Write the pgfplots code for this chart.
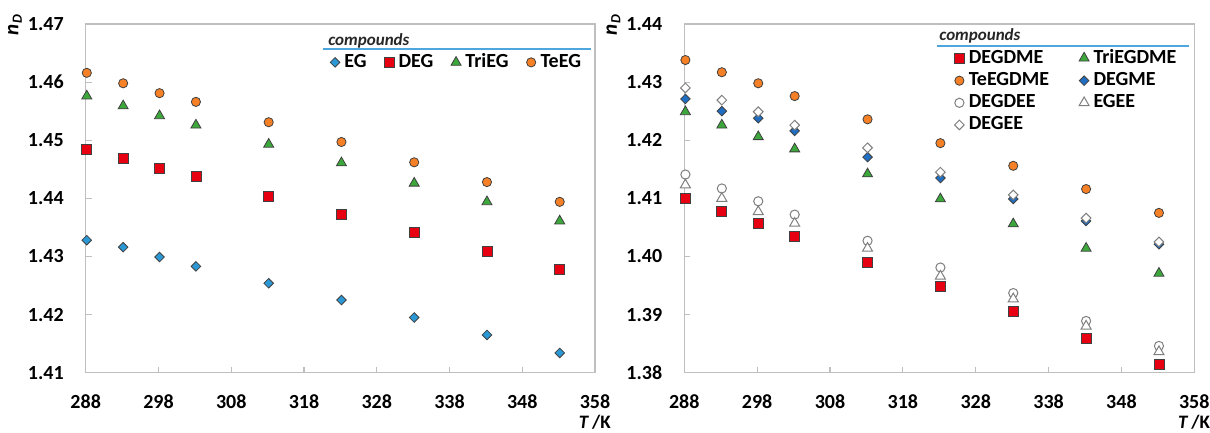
\documentclass[border=0pt]{standalone}
\usepackage{fontspec}
\setmainfont{Carlito}
\usepackage{pgfplots}
\pgfplotsset{compat=1.18}
\definecolor{cblueL}{HTML}{2B98D6}
\definecolor{cblueD}{HTML}{1F6EC2}
\definecolor{cred}{HTML}{E60012}
\definecolor{cgreen}{HTML}{3CA83C}
\definecolor{corange}{HTML}{F58025}
\definecolor{cedge}{HTML}{404040}
\definecolor{copen}{HTML}{7F7F7F}
\definecolor{cline}{HTML}{4FA6DE}
\definecolor{ctitle}{HTML}{262626}
\pgfplotsset{
 base/.style={
  scale only axis,
  xmin=288, xmax=358, xtick={288,298,...,358},
  axis line style={gray!50, line width=0.65pt},
  tick style={gray!50, line width=0.6pt},
  major tick length=3pt,
  tick align=inside,
  xtick pos=left, ytick pos=left,
  ticklabel style={font=\fontsize{10}{12}\selectfont\bfseries},
  /pgf/number format/assume math mode=true,
  xticklabel style={/pgf/number format/1000 sep={}},
  yticklabel style={/pgf/number format/fixed,/pgf/number format/fixed zerofill,/pgf/number format/precision=2},
  xticklabel shift=7.5pt, yticklabel shift=7.5pt,
  legend cell align=left,
  legend style={draw=none, fill=none, inner sep=0pt, outer sep=0pt,
    font=\fontsize{10}{12}\selectfont\bfseries, nodes={inner sep=1pt}},
  xlabel={\textbf{\textit{T}\,/K}},
  xlabel style={at={(axis description cs:0.9543,-0.143)}, anchor=west, font=\fontsize{9.5}{11}\selectfont},
  ylabel={\textbf{\textit{n}}\raisebox{-0.35ex}{\fontsize{7}{8}\selectfont\bfseries\itshape D}},
  ylabel style={at={(axis description cs:-0.1388,0.997)}, anchor=center, font=\fontsize{10.5}{12}\selectfont},
 },
 mk/.style={only marks, legend image code/.code={\draw[##1] plot coordinates {(2.5pt,0pt)}; \path[draw=none,fill=none] (0pt,-0.1pt) rectangle (6.2pt,0.1pt);}},
 mdiam/.style={mk, mark=square*, mark size=1.7pt, mark options={rotate=45, draw=cedge, fill=#1, line width=0.4pt}},
 msq/.style={mk, mark=square*, mark size=2.5pt, mark options={draw=cedge, fill=#1, line width=0.4pt}},
 mtri/.style={mk, mark=triangle*, mark size=2.9pt, mark options={draw=cedge, fill=#1, line width=0.4pt}},
 mcirc/.style={mk, mark=*, mark size=2.3pt, mark options={draw=cedge, fill=#1, line width=0.4pt}},
}
\begin{document}
\begin{tikzpicture}
\useasboundingbox (0,0) rectangle (605pt,216.5pt);
% ---------------- left ----------------
\begin{axis}[base, at={(42.85pt,30.15pt)}, anchor=south west,
  width=254.65pt, height=174.35pt,
  ymin=1.41, ymax=1.47, ytick={1.41,1.42,1.43,1.44,1.45,1.46,1.47},
  legend columns=4,
  legend style={at={(axis description cs:0.4797,0.890)}, anchor=west,
    /tikz/every even column/.append style={column sep=7.8pt}}]
\addplot[mdiam=cblueL] coordinates {(288.15,1.4328)(293.15,1.4316)(298.15,1.4299)(303.15,1.4283)(313.15,1.4254)(323.15,1.4225)(333.15,1.4195)(343.15,1.4165)(353.15,1.4134)};
\addlegendentry{EG}
\addplot[msq=cred] coordinates {(288.15,1.4485)(293.15,1.4469)(298.15,1.4452)(303.15,1.4437)(313.15,1.4404)(323.15,1.4373)(333.15,1.4342)(343.15,1.4308)(353.15,1.4277)};
\addlegendentry{DEG}
\addplot[mtri=cgreen] coordinates {(288.15,1.4576)(293.15,1.4559)(298.15,1.4542)(303.15,1.4526)(313.15,1.4493)(323.15,1.4461)(333.15,1.4426)(343.15,1.4394)(353.15,1.4361)};
\addlegendentry{TriEG}
\addplot[mcirc=corange] coordinates {(288.15,1.4616)(293.15,1.4598)(298.15,1.4581)(303.15,1.4566)(313.15,1.4531)(323.15,1.4497)(333.15,1.4462)(343.15,1.4428)(353.15,1.4394)};
\addlegendentry{TeEG}
\node[anchor=west, text=ctitle, font=\fontsize{8.5}{10}\selectfont\bfseries\itshape, inner sep=0pt] at (axis description cs:0.4757,0.9512) {compounds};
\draw[draw=cline, line width=0.8pt] (axis description cs:0.4653,0.9275) -- (axis description cs:0.9915,0.9275);
\end{axis}
% ---------------- right ----------------
\begin{axis}[base, at={(342.15pt,30.15pt)}, anchor=south west,
  width=255pt, height=174.35pt,
  ymin=1.38, ymax=1.44, ytick={1.38,1.39,1.40,1.41,1.42,1.43,1.44},
  legend columns=2,
  legend style={at={(axis description cs:0.5296,0.807)}, anchor=west, row sep=1pt,
    /tikz/every even column/.append style={column sep=14pt}}]
\addplot[msq=cred] coordinates {(288.15,1.4100)(293.15,1.4078)(298.15,1.4057)(303.15,1.4034)(313.15,1.3990)(323.15,1.3948)(333.15,1.3906)(343.15,1.3859)(353.15,1.3815)};
\addlegendentry{DEGDME}
\addplot[mtri=cgreen] coordinates {(288.15,1.4249)(293.15,1.4226)(298.15,1.4206)(303.15,1.4185)(313.15,1.4142)(323.15,1.4099)(333.15,1.4056)(343.15,1.4014)(353.15,1.3971)};
\addlegendentry{TriEGDME}
\addplot[mcirc=corange] coordinates {(288.15,1.4338)(293.15,1.4317)(298.15,1.4298)(303.15,1.4276)(313.15,1.4236)(323.15,1.4195)(333.15,1.4156)(343.15,1.4116)(353.15,1.4075)};
\addlegendentry{TeEGDME}
\addplot[mdiam=cblueD] coordinates {(288.15,1.4271)(293.15,1.4250)(298.15,1.4238)(303.15,1.4216)(313.15,1.4171)(323.15,1.4135)(333.15,1.4099)(343.15,1.4061)(353.15,1.4021)};
\addlegendentry{DEGME}
\addplot[mk, mark=*, mark size=2.3pt, mark options={draw=copen, fill=white, line width=0.5pt}] coordinates {(288.15,1.4141)(293.15,1.4117)(298.15,1.4095)(303.15,1.4072)(313.15,1.4027)(323.15,1.3981)(333.15,1.3937)(343.15,1.3889)(353.15,1.3846)};
\addlegendentry{DEGDEE}
\addplot[mk, mark=triangle*, mark size=2.9pt, mark options={draw=copen, fill=white, line width=0.5pt}] coordinates {(288.15,1.4123)(293.15,1.4100)(298.15,1.4077)(303.15,1.4057)(313.15,1.4014)(323.15,1.3966)(333.15,1.3927)(343.15,1.3880)(353.15,1.3836)};
\addlegendentry{EGEE}
\addplot[mk, mark=square*, mark size=1.7pt, mark options={rotate=45, draw=copen, fill=white, line width=0.5pt}] coordinates {(288.15,1.4290)(293.15,1.4269)(298.15,1.4249)(303.15,1.4226)(313.15,1.4187)(323.15,1.4145)(333.15,1.4106)(343.15,1.4066)(353.15,1.4025)};
\addlegendentry{DEGEE}
\node[anchor=west, text=ctitle, font=\fontsize{8.5}{10}\selectfont\bfseries\itshape, inner sep=0pt] at (axis description cs:0.4994,0.9655) {compounds};
\draw[draw=cline, line width=0.8pt] (axis description cs:0.4955,0.9376) -- (axis description cs:0.9896,0.9376);
\end{axis}
\end{tikzpicture}
\end{document}
